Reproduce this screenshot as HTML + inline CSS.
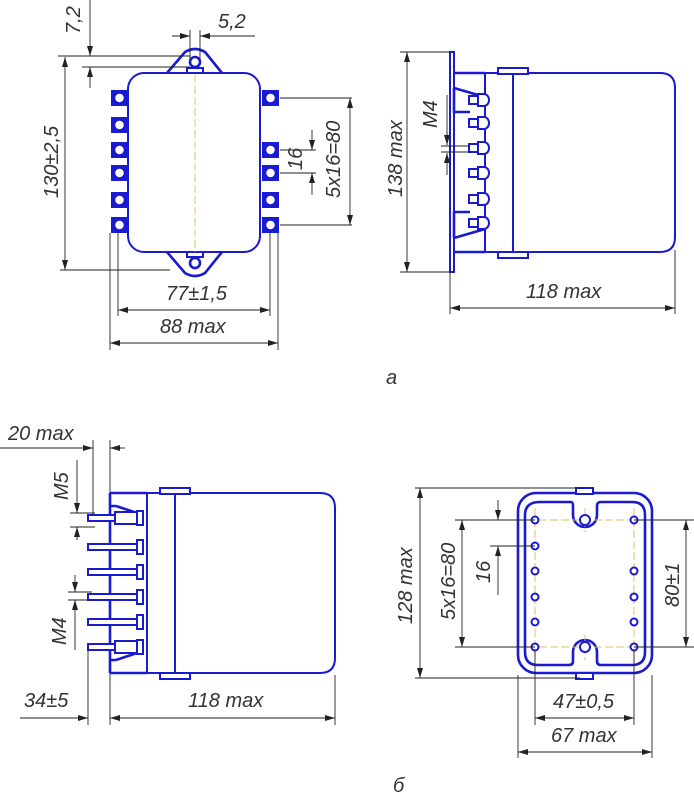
<!DOCTYPE html>
<html><head><meta charset="utf-8"><style>
html,body{margin:0;padding:0;background:#fff;}
svg{display:block;}
text{font-family:"Liberation Sans",sans-serif;font-style:italic;font-size:20px;fill:#333;}
.b{stroke:#1a1ad0;stroke-width:2.6;fill:none;stroke-linejoin:round;}
.bf{stroke:#1a1ad0;stroke-width:2;fill:#fff;}
.d{stroke:#222;stroke-width:0.9;fill:none;}
.c{stroke:#e0c060;stroke-width:1;stroke-dasharray:8 3;fill:none;}
</style></head><body>
<svg width="694" height="800" viewBox="0 0 694 800" xmlns="http://www.w3.org/2000/svg">
<defs>
<marker id="a" viewBox="0 0 10 6" refX="10" refY="3" markerWidth="10" markerHeight="6" orient="auto-start-reverse" markerUnits="userSpaceOnUse"><path d="M0,0 L10,3 L0,6 z" fill="#222"/></marker>
</defs>

<!-- ===== View a, front ===== -->
<path class="b" d="M167,73 L185,52 Q195,46 205,52 L222,73"/>
<path class="b" d="M167,252 L185,273 Q195,279 205,273 L222,252"/>
<circle class="b" cx="195" cy="62" r="5"/>
<circle class="b" cx="195" cy="263" r="5"/>
<rect class="bf" x="187" y="68" width="16" height="6"/>
<rect class="bf" x="187" y="251" width="16" height="6"/>
<rect class="bf" x="128" y="73" width="132" height="179" rx="16"/>
<line class="c" x1="195" y1="75" x2="195" y2="252"/>
<g fill="#1a1ad0">
<rect x="111" y="90" width="17" height="16"/><rect x="111" y="117" width="17" height="16"/>
<rect x="111" y="142" width="17" height="16"/><rect x="111" y="165" width="17" height="16"/>
<rect x="111" y="192" width="17" height="16"/><rect x="111" y="217" width="17" height="16"/>
<rect x="262" y="90" width="17" height="16"/><rect x="262" y="142" width="17" height="16"/>
<rect x="262" y="165" width="17" height="16"/><rect x="262" y="192" width="17" height="16"/>
<rect x="262" y="217" width="17" height="16"/>
</g>
<g fill="#fff" stroke="#1a1ad0" stroke-width="1.5">
<circle cx="119.5" cy="98" r="5"/><circle cx="119.5" cy="125" r="5"/><circle cx="119.5" cy="150" r="5"/>
<circle cx="119.5" cy="173" r="5"/><circle cx="119.5" cy="200" r="5"/><circle cx="119.5" cy="225" r="5"/>
<circle cx="270.5" cy="98" r="5"/><circle cx="270.5" cy="150" r="5"/><circle cx="270.5" cy="173" r="5"/>
<circle cx="270.5" cy="200" r="5"/><circle cx="270.5" cy="225" r="5"/>
</g>
<!-- dims a -->
<line class="d" x1="90" y1="0" x2="90" y2="56" marker-end="url(#a)"/>
<line class="d" x1="90" y1="88" x2="90" y2="67" marker-end="url(#a)"/>
<line class="d" x1="58" y1="56" x2="190" y2="56"/>
<line class="d" x1="82" y1="67" x2="190" y2="67"/>
<text transform="translate(80,34) rotate(-90)">7,2</text>
<line class="d" x1="172" y1="36" x2="190" y2="36" marker-end="url(#a)"/>
<line class="d" x1="255" y1="36" x2="200" y2="36" marker-end="url(#a)"/>
<line class="d" x1="190" y1="30" x2="190" y2="60"/><line class="d" x1="200" y1="30" x2="200" y2="60"/>
<text x="218" y="28">5,2</text>
<line class="d" x1="65" y1="57" x2="65" y2="270" marker-start="url(#a)" marker-end="url(#a)"/>
<line class="d" x1="60" y1="270" x2="170" y2="270"/>
<text transform="translate(58,198) rotate(-90)">130±2,5</text>
<line class="d" x1="350" y1="98" x2="350" y2="225" marker-start="url(#a)" marker-end="url(#a)"/>
<line class="d" x1="280" y1="98" x2="352" y2="98"/><line class="d" x1="280" y1="225" x2="352" y2="225"/>
<text transform="translate(340,198) rotate(-90)">5x16=80</text>
<line class="d" x1="312" y1="130" x2="312" y2="150" marker-end="url(#a)"/>
<line class="d" x1="312" y1="195" x2="312" y2="173" marker-end="url(#a)"/>
<line class="d" x1="280" y1="150" x2="316" y2="150"/><line class="d" x1="280" y1="173" x2="316" y2="173"/>
<text transform="translate(302,170) rotate(-90)">16</text>
<line class="d" x1="118" y1="310" x2="270" y2="310" marker-start="url(#a)" marker-end="url(#a)"/>
<line class="d" x1="118" y1="233" x2="118" y2="316"/><line class="d" x1="270" y1="233" x2="270" y2="316"/>
<text x="166" y="300">77±1,5</text>
<line class="d" x1="110" y1="343" x2="278" y2="343" marker-start="url(#a)" marker-end="url(#a)"/>
<line class="d" x1="110" y1="233" x2="110" y2="350"/><line class="d" x1="278" y1="233" x2="278" y2="350"/>
<text x="160" y="333">88 max</text>

<!-- ===== View a, side ===== -->
<rect class="bf" x="450" y="52" width="4" height="220"/>
<path class="b" d="M454,73 L485,73 M454,252 L485,252 M454,88 L485,97 M454,88 L454,112 L470,112 M454,238 L485,229 M454,238 L454,212 L470,212"/>
<rect class="bf" x="485" y="73" width="28" height="179"/>
<path class="bf" d="M513,73 L660,73 Q675,73 675,88 L675,237 Q675,252 660,252 L513,252 z"/>
<rect class="bf" x="498" y="68" width="30" height="6"/>
<rect class="bf" x="498" y="252" width="30" height="6"/>
<g class="bf">
<rect x="469" y="96" width="9" height="8"/><path d="M478,94 h6 a5,6 0 0 1 0,12 h-6 z"/>
<rect x="469" y="119" width="9" height="8"/><path d="M478,117 h6 a5,6 0 0 1 0,12 h-6 z"/>
<rect x="469" y="144" width="9" height="8"/><path d="M478,142 h6 a5,6 0 0 1 0,12 h-6 z"/>
<rect x="469" y="169" width="9" height="8"/><path d="M478,167 h6 a5,6 0 0 1 0,12 h-6 z"/>
<rect x="469" y="195" width="9" height="8"/><path d="M478,193 h6 a5,6 0 0 1 0,12 h-6 z"/>
<rect x="469" y="219" width="9" height="8"/><path d="M478,217 h6 a5,6 0 0 1 0,12 h-6 z"/>
</g>
<line class="d" x1="407" y1="52" x2="407" y2="272" marker-start="url(#a)" marker-end="url(#a)"/>
<line class="d" x1="400" y1="52" x2="450" y2="52"/><line class="d" x1="400" y1="272" x2="450" y2="272"/>
<text transform="translate(402,197) rotate(-90)">138 max</text>
<line class="d" x1="447" y1="95" x2="447" y2="145" /><line class="d" x1="447" y1="132" x2="447" y2="145" marker-end="url(#a)"/>
<line class="d" x1="447" y1="175" x2="447" y2="153" marker-end="url(#a)"/>
<line class="d" x1="441" y1="146" x2="470" y2="146"/><line class="d" x1="441" y1="152" x2="470" y2="152"/>
<text transform="translate(437,128) rotate(-90)">M4</text>
<line class="d" x1="450" y1="308" x2="675" y2="308" marker-start="url(#a)" marker-end="url(#a)"/>
<line class="d" x1="450" y1="272" x2="450" y2="314"/><line class="d" x1="675" y1="250" x2="675" y2="314"/>
<text x="526" y="298">118 max</text>
<text x="386" y="384">a</text>

<!-- ===== View b, side ===== -->
<path class="b" d="M110,493 L147,493 M110,673 L147,673 M110,493 L110,673 M116,506 L137,513 M116,660 L137,653 M116,506 L110,506 M116,660 L110,660"/>
<g class="bf">
<rect x="88" y="515" width="40" height="6"/><rect x="88" y="544" width="50" height="6"/>
<rect x="88" y="569" width="50" height="6"/><rect x="88" y="594" width="50" height="6"/>
<rect x="88" y="619" width="50" height="6"/><rect x="88" y="644" width="40" height="6"/>
<rect x="115" y="512" width="22" height="12"/><rect x="115" y="641" width="22" height="12"/>
<rect x="137" y="511" width="6" height="14"/><rect x="137" y="540" width="6" height="14"/>
<rect x="137" y="565" width="6" height="14"/><rect x="137" y="590" width="6" height="14"/>
<rect x="137" y="615" width="6" height="14"/><rect x="137" y="640" width="6" height="14"/>
</g>
<rect class="bf" x="147" y="493" width="28" height="180"/>
<path class="bf" d="M175,493 L320,493 Q335,493 335,508 L335,658 Q335,673 320,673 L175,673 z"/>
<rect class="bf" x="160" y="488" width="30" height="6"/>
<rect class="bf" x="160" y="673" width="30" height="6"/>
<line class="d" x1="0" y1="448" x2="93" y2="448"/>
<line class="d" x1="82" y1="448" x2="93" y2="448" marker-end="url(#a)"/>
<line class="d" x1="125" y1="448" x2="110" y2="448" marker-end="url(#a)"/>
<line class="d" x1="93" y1="440" x2="93" y2="515"/><line class="d" x1="110" y1="440" x2="110" y2="493"/>
<text x="8" y="440">20 max</text>
<line class="d" x1="77" y1="460" x2="77" y2="513" marker-end="url(#a)"/>
<line class="d" x1="77" y1="540" x2="77" y2="527" marker-end="url(#a)"/>
<line class="d" x1="70" y1="513" x2="95" y2="513"/><line class="d" x1="70" y1="527" x2="95" y2="527"/>
<text transform="translate(68,500) rotate(-90)">M5</text>
<line class="d" x1="75" y1="575" x2="75" y2="592" marker-end="url(#a)"/>
<line class="d" x1="75" y1="650" x2="75" y2="600" marker-end="url(#a)"/>
<line class="d" x1="68" y1="592" x2="92" y2="592"/><line class="d" x1="68" y1="600" x2="92" y2="600"/>
<text transform="translate(66,645) rotate(-90)">M4</text>
<line class="d" x1="20" y1="718" x2="88" y2="718" marker-end="url(#a)"/>
<line class="d" x1="110" y1="718" x2="335" y2="718" marker-start="url(#a)" marker-end="url(#a)"/>
<line class="d" x1="88" y1="650" x2="88" y2="725"/><line class="d" x1="110" y1="673" x2="110" y2="725"/>
<line class="d" x1="335" y1="675" x2="335" y2="725"/>
<text x="24" y="707">34±5</text>
<text x="188" y="707">118 max</text>

<!-- ===== View b, end ===== -->
<rect class="b" x="518" y="493" width="134" height="180" rx="18"/>
<path class="b" d="M540,502 L571,502 Q573,502 573,506 L573,515 A12,12 0 0 0 597,515 L597,506 Q597,502 601,502 L632,502 Q645,502 645,515 L645,652 Q645,665 632,665 L601,665 Q597,665 597,661 L597,652 A12,12 0 0 0 573,652 L573,661 Q573,665 569,665 L538,665 Q525,665 525,652 L525,515 Q525,502 540,502 z"/>
<rect class="bf" x="576" y="488" width="17" height="6"/>
<rect class="bf" x="576" y="673" width="17" height="6"/>
<g class="c"><line x1="535" y1="508" x2="535" y2="660"/><line x1="634" y1="508" x2="634" y2="660"/>
<line x1="585" y1="508" x2="585" y2="532"/><line x1="585" y1="635" x2="585" y2="660"/>
<line x1="528" y1="520" x2="642" y2="520"/><line x1="528" y1="647" x2="642" y2="647"/></g>
<g fill="#fff" stroke="#1a1ad0" stroke-width="2">
<circle cx="535" cy="520" r="3.5"/><circle cx="535" cy="546" r="3.5"/><circle cx="535" cy="571" r="3.5"/>
<circle cx="535" cy="597" r="3.5"/><circle cx="535" cy="622" r="3.5"/><circle cx="535" cy="647" r="3.5"/>
<circle cx="634" cy="520" r="3.5"/><circle cx="634" cy="571" r="3.5"/>
<circle cx="634" cy="597" r="3.5"/><circle cx="634" cy="622" r="3.5"/><circle cx="634" cy="647" r="3.5"/>
<circle cx="585" cy="520" r="5"/><circle cx="585" cy="647" r="5"/>
</g>
<line class="d" x1="420" y1="488" x2="420" y2="678" marker-start="url(#a)" marker-end="url(#a)"/>
<line class="d" x1="415" y1="488" x2="580" y2="488"/><line class="d" x1="415" y1="678" x2="580" y2="678"/>
<text transform="translate(412,624) rotate(-90)">128 max</text>
<line class="d" x1="462" y1="520" x2="462" y2="647" marker-start="url(#a)" marker-end="url(#a)"/>
<line class="d" x1="455" y1="520" x2="535" y2="520"/><line class="d" x1="455" y1="647" x2="535" y2="647"/>
<text transform="translate(455,620) rotate(-90)">5x16=80</text>
<line class="d" x1="498" y1="500" x2="498" y2="520" marker-end="url(#a)"/>
<line class="d" x1="498" y1="595" x2="498" y2="546" marker-end="url(#a)"/>
<line class="d" x1="490" y1="546" x2="535" y2="546"/>
<text transform="translate(490,583) rotate(-90)">16</text>
<line class="d" x1="686" y1="520" x2="686" y2="647" marker-start="url(#a)" marker-end="url(#a)"/>
<line class="d" x1="634" y1="520" x2="694" y2="520"/><line class="d" x1="634" y1="647" x2="694" y2="647"/>
<text transform="translate(679,607) rotate(-90)">80±1</text>
<line class="d" x1="535" y1="718" x2="634" y2="718" marker-start="url(#a)" marker-end="url(#a)"/>
<line class="d" x1="535" y1="650" x2="535" y2="725"/><line class="d" x1="634" y1="650" x2="634" y2="725"/>
<text x="553" y="708">47±0,5</text>
<line class="d" x1="518" y1="752" x2="652" y2="752" marker-start="url(#a)" marker-end="url(#a)"/>
<line class="d" x1="518" y1="675" x2="518" y2="758"/><line class="d" x1="652" y1="675" x2="652" y2="758"/>
<text x="551" y="742">67 max</text>
<text x="393" y="792">б</text>
</svg>
</body></html>
